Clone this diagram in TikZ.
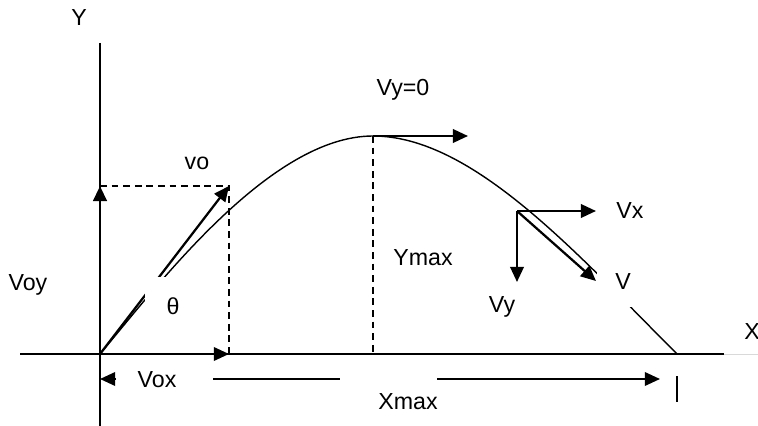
\documentclass[tikz,border=0pt]{standalone}
\usepackage{fontspec}
\setmainfont{Liberation Sans}
\usetikzlibrary{arrows.meta}

\begin{document}
\begin{tikzpicture}[
    x=0.025cm, y=-0.025cm,
    lbl/.style={font=\fontsize{16.5}{19}\selectfont, inner sep=1pt},
    gapbox/.style={lbl, fill=white, inner sep=0pt},
    axis/.style={line width=1.3pt},
    vec/.style={line width=1.6pt, ->},
    guide/.style={line width=0.9pt, dash pattern=on 0.17cm off 0.12cm},
    >={Triangle[length=0.38cm, width=0.34cm]}
]
    \useasboundingbox (0,0) rectangle (758,426);

    % key points
    \coordinate (O) at (100,354);
    \coordinate (ytop) at (100,43);
    \coordinate (ybot) at (100,426);
    \coordinate (xleft) at (20,354);
    \coordinate (xright) at (724,354);
    \coordinate (xend) at (758,354);
    \coordinate (v0) at (229,186);
    \coordinate (top) at (373,136);
    \coordinate (topv) at (468,136);
    \coordinate (land) at (677,354);
    \coordinate (P) at (517,211);
    \coordinate (Px) at (596,211);
    \coordinate (Py) at (517,282);
    \coordinate (Pv) at (596,281);

    % axes
    \draw[axis] (xleft) -- (xright);
    \draw[gray!30, thin] (xright) -- (xend);
    \draw[axis] (ytop) -- (ybot);
    \node[lbl] (ylab) at (79,18) {Y};
    \node[lbl] (xlab) at (752,332) {X};

    % trajectory
    \draw[line width=1pt] (O) .. controls (158,285) and (270,136) .. (top)
        .. controls (473,136) and (577,254) .. (land);

    % launch velocity and its components
    \draw[guide] (O |- v0) -- (v0) -- (v0 |- O);
    \draw[guide] (top) -- (top |- O);
    \draw[vec, line width=2pt] (O) -- (O |- v0);
    \draw[vec] (O) -- (v0);
    \draw[axis, ->] (O) -- (v0 |- O);
    \node[gapbox, minimum width=1.4cm, minimum height=1.45cm] (theta) at (173,306) {θ};
    \node[lbl] (vo) at (197,163) {vo};
    \node[lbl] (voy) at (28,285) {Voy};

    % top of the path
    \draw[vec] (top) -- (topv);
    \node[lbl] (vy0) at (403,90) {Vy=0};
    \node[lbl] (ymax) at (423,258) {Ymax};

    % velocity on the way down
    \node[gapbox, minimum width=1.3cm, minimum height=1.25cm] (v) at (623,282) {V};
    \draw[vec] (P) -- (Px);
    \draw[vec] (P) -- (Py);
    \draw[vec] (P) -- (Pv);
    \node[lbl] (vx) at (630,211) {Vx};
    \node[lbl] (vy) at (502,307) {Vy};

    % range
    \coordinate (dA) at (116,379);
    \coordinate (dL) at (100,379);
    \coordinate (dB) at (213,379);
    \coordinate (dC) at (340,379);
    \coordinate (dD) at (437,379);
    \coordinate (dE) at (485,379);
    \coordinate (dR) at (660,379);
    \draw[axis, ->] (dA) -- (dL);
    \draw[axis] (dB) -- (dC);
    \draw[line width=0.8pt] (dD) -- (dE);
    \draw[axis, ->] (dE) -- (dR);
    \draw[line width=1.2pt] (677,376) -- (677,402);
    \node[lbl] (vox) at (157,380) {Vox};
    \node[lbl] (xmax) at (408,402) {Xmax};
\end{tikzpicture}
\end{document}
